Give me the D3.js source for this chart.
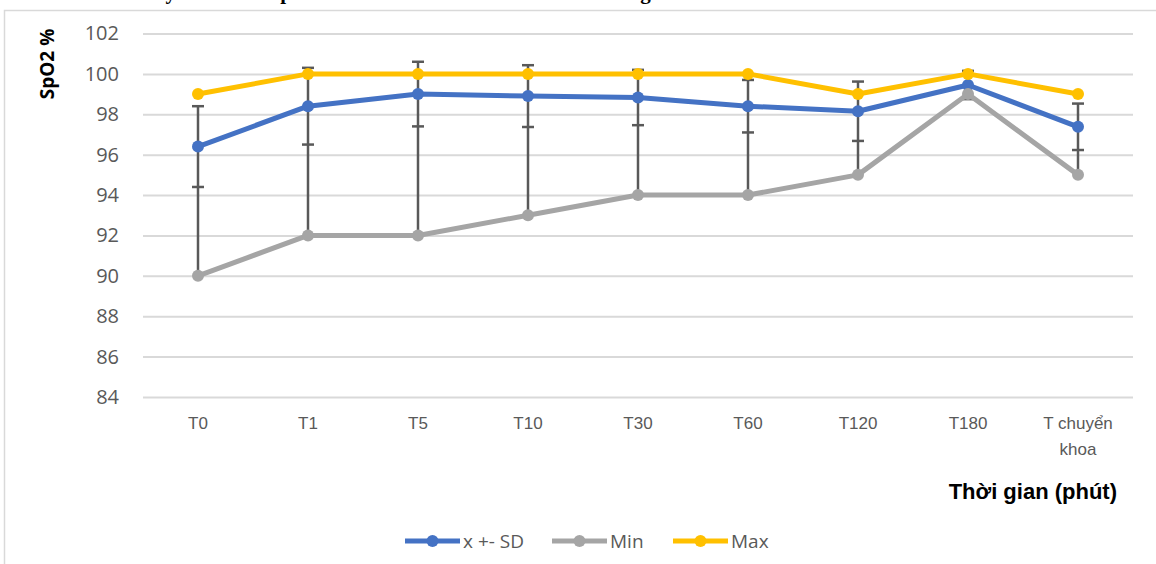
<!DOCTYPE html>
<html>
<head>
<meta charset="utf-8">
<script src="https://cdn.jsdelivr.net/npm/d3@7"></script>
<style>
  body { margin: 0; background: #fff; }
  svg { display: block; }
</style>
</head>
<body>
<div id="viz"></div>
<script>
const categories = ['T0', 'T1', 'T5', 'T10', 'T30', 'T60', 'T120', 'T180', 'T chuyển khoa'];
const meanValues = [96.4, 98.4, 99.0, 98.9, 98.83, 98.4, 98.15, 99.45, 97.38];
const sdValues = [2.0, 1.9, 1.6, 1.53, 1.37, 1.3, 1.47, 0.7, 1.15];
const minValues = [90, 92, 92, 93, 94, 94, 95, 99, 95];
const maxValues = [99, 100, 100, 100, 100, 100, 99, 100, 99];
const yTicks = [84, 86, 88, 90, 92, 94, 96, 98, 100, 102];

const series = [
  { name: 'x +- SD', values: meanValues, color: '#4472C4' },
  { name: 'Min', values: minValues, color: '#A5A5A5' },
  { name: 'Max', values: maxValues, color: '#FFC000' }
];

const canvasWidth = 1156;
const canvasHeight = 564;
const plot = { left: 143, right: 1133, top: 33.5, bottom: 397 };

const svg = d3.select('#viz')
  .append('svg')
  .attr('width', canvasWidth)
  .attr('height', canvasHeight);

// heading of the page, cut off by the top edge in the picture
svg.append('text')
  .attr('x', 0)
  .attr('y', -1)
  .attr('textLength', 790)
  .attr('lengthAdjust', 'spacing')
  .attr('font-family', 'Liberation Serif, serif')
  .attr('font-weight', 'bold')
  .attr('font-size', 21)
  .attr('fill', '#000')
  .text('3.3.4. Thay đổi SpO2 ở các thời điểm nghiên cứu');

// chart frame
svg.append('rect')
  .attr('x', 4.5)
  .attr('y', 10.5)
  .attr('width', canvasWidth)
  .attr('height', canvasHeight)
  .attr('fill', 'none')
  .attr('stroke', '#D9D9D9')
  .attr('stroke-width', 1.5);

const x = d3.scaleBand()
  .domain(categories)
  .range([plot.left, plot.right]);

const y = d3.scaleLinear()
  .domain([84, 102])
  .range([plot.bottom, plot.top]);

const cx = (d) => x(d) + x.bandwidth() / 2;

// gridlines + y labels
const yAxis = svg.append('g')
  .attr('transform', `translate(${plot.left}, 0)`)
  .call(d3.axisLeft(y).tickValues(yTicks).tickSize(-(plot.right - plot.left)).tickPadding(24));
yAxis.select('.domain').remove();
yAxis.selectAll('line').attr('stroke', '#D9D9D9').attr('stroke-width', 2);
yAxis.selectAll('text')
  .attr('fill', '#595959')
  .attr('font-family', 'Open Sans, sans-serif')
  .attr('font-size', 20);

svg.append('text')
  .attr('transform', `translate(54, 64) rotate(-90)`)
  .attr('text-anchor', 'middle')
  .attr('font-family', 'Open Sans, sans-serif')
  .attr('font-weight', 'bold')
  .attr('font-size', 19)
  .attr('fill', '#000')
  .text('SpO2 %');

// x labels
const xAxis = svg.append('g')
  .attr('transform', `translate(0, ${plot.bottom})`)
  .call(d3.axisBottom(x).tickSize(0).tickPadding(20));
xAxis.select('.domain').remove();
xAxis.selectAll('text')
  .attr('fill', '#595959')
  .attr('font-family', 'Liberation Sans Narrow, Arial Narrow, sans-serif')
  .attr('font-size', 17)
  .each(function (d) {
    const words = d.split(' ');
    const el = d3.select(this).text(null);
    const lines = words.length > 1 ? [words.slice(0, 2).join(' '), words.slice(2).join(' ')] : [d];
    lines.forEach((line, i) => {
      el.append('tspan')
        .attr('x', 0)
        .attr('dy', i === 0 ? '0.71em' : '1.5em')
        .text(line);
    });
  });

svg.append('text')
  .attr('x', 1117)
  .attr('y', 499)
  .attr('text-anchor', 'end')
  .attr('font-family', 'Liberation Sans Narrow, Arial Narrow, sans-serif')
  .attr('font-weight', 'bold')
  .attr('font-size', 22)
  .attr('fill', '#000')
  .text('Thời gian (phút)');

// error bars: line from mean+SD down to min, caps at mean+SD and mean-SD
const errs = svg.append('g').selectAll('g')
  .data(categories)
  .enter().append('g');
errs.append('line')
  .attr('x1', (d) => cx(d))
  .attr('x2', (d) => cx(d))
  .attr('y1', (d, i) => y(meanValues[i] + sdValues[i]))
  .attr('y2', (d, i) => y(Math.min(minValues[i], meanValues[i] - sdValues[i])))
  .attr('stroke', '#595959')
  .attr('stroke-width', 2.5);
[1, -1].forEach((sign) => {
  errs.append('line')
    .attr('x1', (d) => cx(d) - 6)
    .attr('x2', (d) => cx(d) + 6)
    .attr('y1', (d, i) => y(meanValues[i] + sign * sdValues[i]))
    .attr('y2', (d, i) => y(meanValues[i] + sign * sdValues[i]))
    .attr('stroke', '#595959')
    .attr('stroke-width', 2.5);
});

// series
const line = d3.line()
  .x((d, i) => cx(categories[i]))
  .y((d) => y(d));

series.forEach((s) => {
  const g = svg.append('g');
  g.append('path')
    .attr('d', line(s.values))
    .attr('fill', 'none')
    .attr('stroke', s.color)
    .attr('stroke-width', 5)
    .attr('stroke-linejoin', 'round');
  g.selectAll('circle').data(s.values)
    .enter().append('circle')
      .attr('cx', (d, i) => cx(categories[i]))
      .attr('cy', (d) => y(d))
      .attr('r', 6)
      .attr('fill', s.color);
});

// legend
const legendX = [405, 552, 673];
const legend = svg.append('g').selectAll('g')
  .data(series)
  .enter().append('g')
    .attr('transform', (d, i) => `translate(${legendX[i]}, 541)`);
legend.append('line')
  .attr('x1', 0).attr('x2', 55)
  .attr('stroke', (d) => d.color)
  .attr('stroke-width', 5);
legend.append('circle')
  .attr('cx', 27.5)
  .attr('r', 6)
  .attr('fill', (d) => d.color);
legend.append('text')
  .attr('x', 58)
  .attr('dy', '0.35em')
  .attr('fill', '#595959')
  .attr('font-family', 'Open Sans, sans-serif')
  .attr('font-size', 19)
  .text((d) => d.name);
</script>
</body>
</html>
